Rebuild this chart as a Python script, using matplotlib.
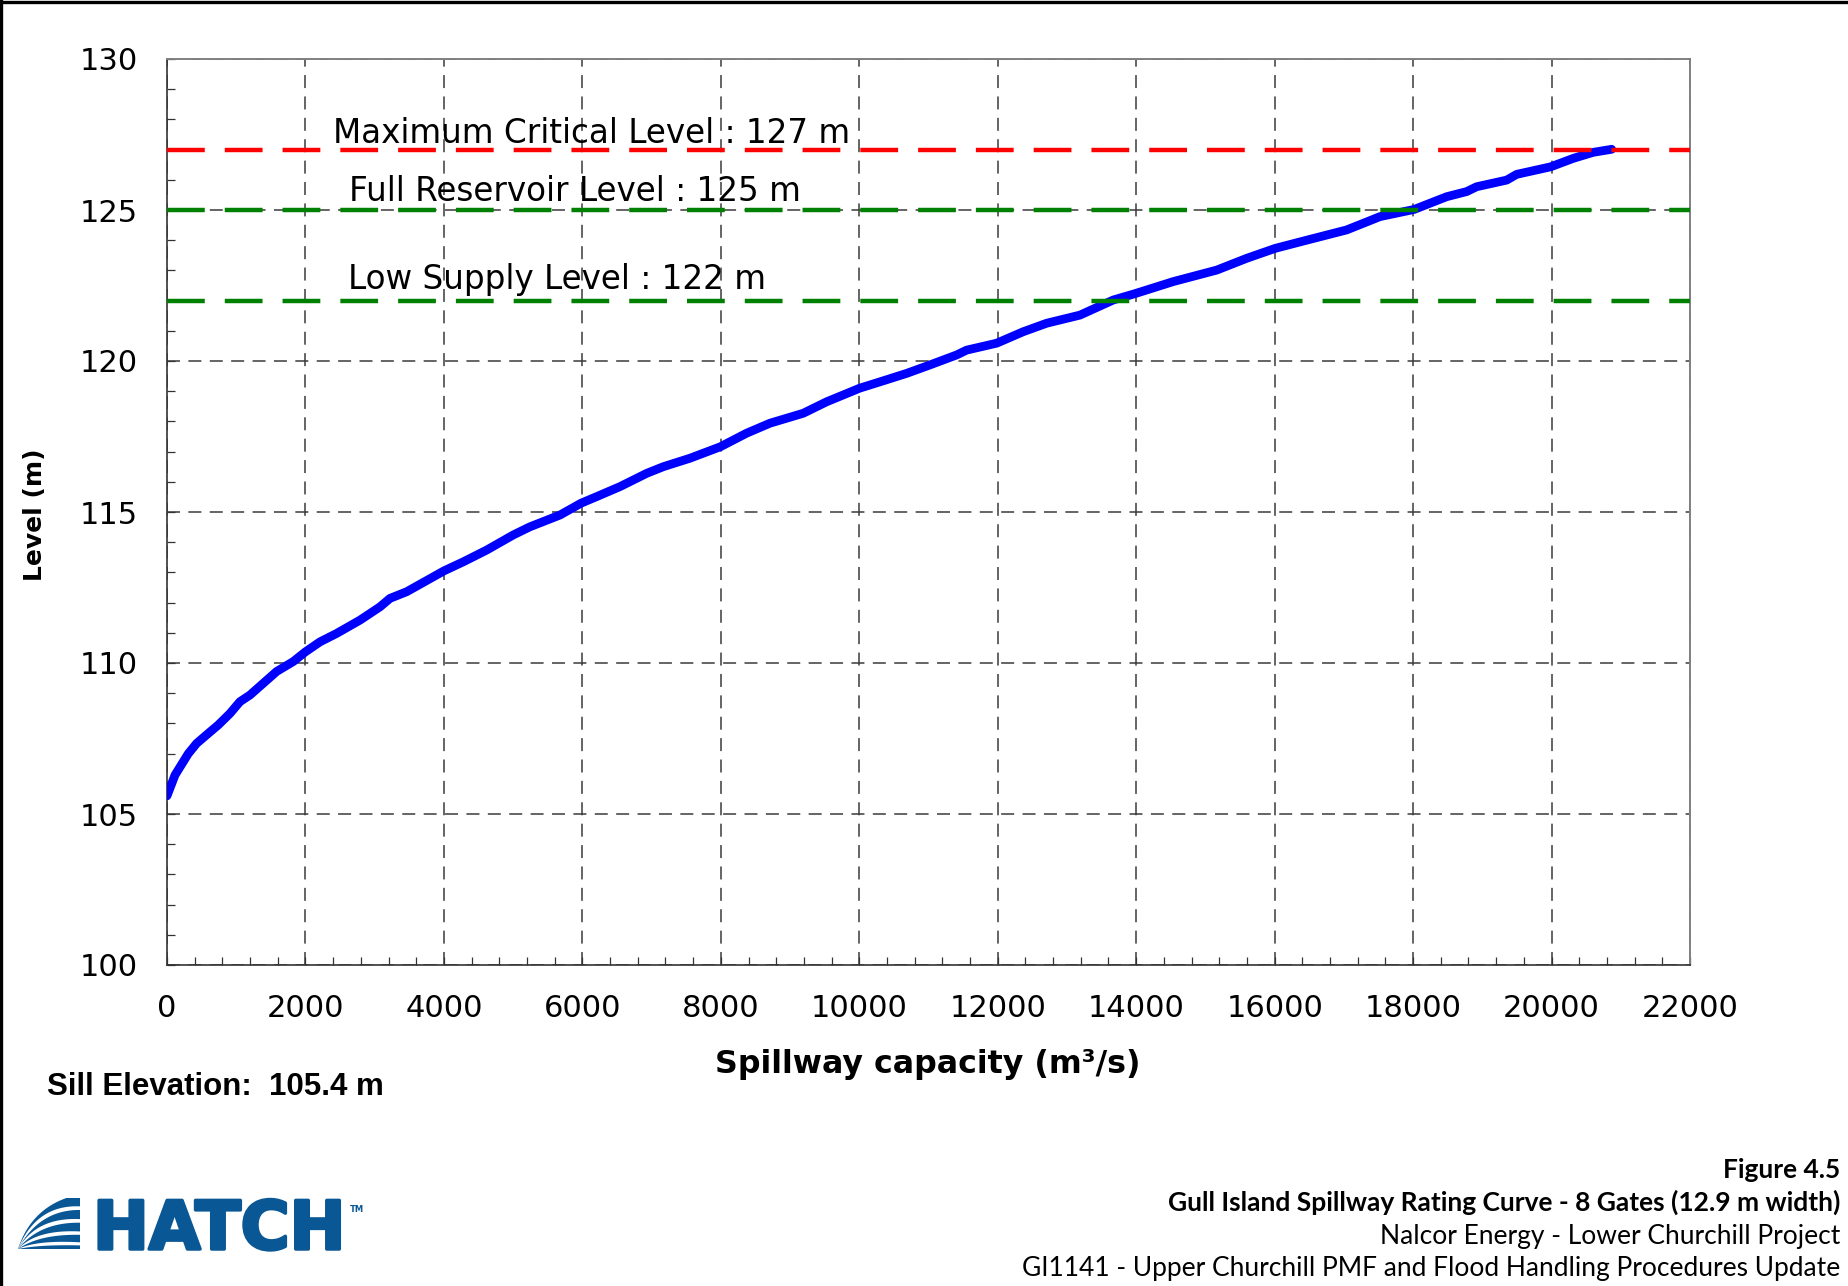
import matplotlib
matplotlib.use("Agg")
import matplotlib.pyplot as plt
import numpy as np
from matplotlib.lines import Line2D
from matplotlib.patches import Polygon, Rectangle
from matplotlib.ticker import MultipleLocator
import matplotlib.patheffects as pe

# Spillway rating curve: discharge (m³/s) against reservoir level (m)
discharge = [0, 116, 308, 429, 597, 741, 910, 1054, 1199, 1584, 1825, 2000,
             2210, 2451, 2788, 3077, 3221, 3462, 4000, 4280, 4618, 5002, 5243,
             5677, 5980, 6207, 6543, 6929, 7169, 7554, 7993, 8373, 8710, 9191,
             9529, 10006, 10299, 10684, 11021, 11406, 11551, 11985, 12369,
             12706, 13188, 13669, 13997, 14536, 15163, 15596, 16009, 16462,
             17040, 17521, 18017, 18485, 18774, 18918, 19352, 19496, 19987,
             20314, 20603, 20868]
level = [105.6, 106.29, 107.0, 107.34, 107.67, 107.95, 108.33, 108.72, 108.94,
         109.72, 110.05, 110.37, 110.7, 110.98, 111.42, 111.86, 112.14, 112.36,
         113.05, 113.35, 113.74, 114.24, 114.51, 114.9, 115.29, 115.51, 115.84,
         116.28, 116.5, 116.78, 117.16, 117.61, 117.94, 118.27, 118.65, 119.1,
         119.31, 119.59, 119.87, 120.2, 120.36, 120.59, 120.97, 121.25, 121.52,
         122.02, 122.24, 122.63, 123.01, 123.4, 123.73, 124.0, 124.34, 124.78,
         125.02, 125.44, 125.61, 125.77, 125.99, 126.18, 126.43, 126.71, 126.91,
         127.01]

# Operating reference levels
ref_names = ["Maximum Critical Level", "Full Reservoir Level", "Low Supply Level"]
ref_levels = [127, 125, 122]
ref_colors = ["#ff0000", "#008000", "#008000"]

x_ticks = list(range(0, 22001, 2000))
y_ticks = list(range(100, 131, 5))

sill_elevation = 105.4

W, H = 1849, 1286
fig = plt.figure(figsize=(W / 100, H / 100), dpi=100)


def fx(px):
    return px / W


def fy(py):
    return 1 - py / H


ax = fig.add_axes([fx(167), fy(965), fx(1690) - fx(167), fy(59) - fy(965)])

ax.plot(discharge, level, color="#0000ff", lw=6.3, solid_joinstyle="round",
        solid_capstyle="round", zorder=3)

label_pos = [(2400, 0.23), (2630, 0.30), (2620, 0.37)]
for name, lvl, col, (lx, dy) in zip(ref_names, ref_levels, ref_colors, label_pos):
    ax.plot([x_ticks[0], x_ticks[-1]], [lvl, lvl], color=col, lw=3.2,
            linestyle=(0, (8.5, 4.5)), zorder=4)
    ax.text(lx, lvl + dy, f"{name} : {lvl} m", fontsize=23.5, va="baseline",
            ha="left", color="black", zorder=5)

ax.set_xlim(x_ticks[0], x_ticks[-1])
ax.set_ylim(y_ticks[0], y_ticks[-1])
ax.set_xticks(x_ticks)
ax.set_yticks(y_ticks)
ax.xaxis.set_minor_locator(MultipleLocator(400))
ax.yaxis.set_minor_locator(MultipleLocator(1))
ax.tick_params(which="both", direction="in", top=False, right=False,
               length=6, width=0.9, color="#333333")
ax.tick_params(which="major", labelsize=22, pad=21)
ax.grid(True, which="major", color="#3a3a3a", lw=1.1, linestyle=(0, (8.5, 5.5)),
        zorder=1)
ax.set_axisbelow(True)
for side in ("left", "bottom"):
    ax.spines[side].set_color("#333333")
    ax.spines[side].set_linewidth(1.2)
for side in ("top", "right"):
    ax.spines[side].set_color("#808080")
    ax.spines[side].set_linewidth(1.4)

# Axis titles
fig.text(fx(928), fy(1064), "Spillway capacity (m³/s)", fontsize=22.8,
         fontweight="bold", ha="center", va="center")
fig.text(fx(35), fy(515), "Level (m)", fontsize=18, fontweight="bold",
         rotation=90, ha="center", va="center")

fig.text(fx(47), fy(1095), f"Sill Elevation:  {sill_elevation} m",
         family="Liberation Sans", fontweight="bold", fontsize=22.5,
         va="baseline", ha="left")

# Page frame
fig.add_artist(Line2D([0, 1], [fy(1.5), fy(1.5)], transform=fig.transFigure,
                      color="black", lw=2.4))
fig.add_artist(Line2D([fx(1.5), fx(1.5)], [0, 1], transform=fig.transFigure,
                      color="black", lw=2.4))

# Caption block
cap_font = "Lato"
fig.text(fx(1840), fy(1178), "Figure 4.5", family=cap_font, fontweight="bold",
         fontsize=19, ha="right", va="baseline")
fig.text(fx(1840), fy(1211),
         "Gull Island Spillway Rating Curve - 8 Gates (12.9 m width)",
         family=cap_font, fontweight="bold", fontsize=19, ha="right",
         va="baseline")
fig.text(fx(1840), fy(1244), "Nalcor Energy - Lower Churchill Project",
         family=cap_font, fontsize=19, ha="right", va="baseline")
fig.text(fx(1840), fy(1276),
         "GI1141 - Upper Churchill PMF and Flood Handling Procedures Update",
         family=cap_font, fontsize=19, ha="right", va="baseline")

# HATCH logo
logo_blue = "#0a5796"
lax = fig.add_axes([fx(18), fy(1249), fx(80) - fx(18), fy(1198) - fy(1249)])
lax.set_xlim(0, 1)
lax.set_ylim(0, 1)
lax.axis("off")
lax.add_patch(Rectangle((0, 0), 1, 1, color=logo_blue, lw=0))


def bez(p0, p1, p2, n=40):
    t = np.linspace(0, 1, n)[:, None]
    return (1 - t) ** 2 * np.array(p0) + 2 * (1 - t) * t * np.array(p1) + t ** 2 * np.array(p2)


top_curve = bez((0, 0), (0.2, 0.75), (0.78, 1.0))
lax.add_patch(Polygon(np.vstack([top_curve, [[0, 1]]]), closed=True,
                      color="white", lw=0))
for yend, w in [(0.80, 0.07), (0.55, 0.07), (0.31, 0.065), (0.10, 0.06)]:
    upper = bez((0, 0), (0.3, yend + w / 2 + 0.05), (1.02, yend + w / 2))
    lower = bez((0, 0), (0.35, yend - w / 2 + 0.02), (1.02, yend - w / 2))
    lax.add_patch(Polygon(np.vstack([upper, lower[::-1]]), closed=True,
                          color="white", lw=0))

fig.text(fx(93), fy(1249), "HATCH", fontsize=48, fontweight="bold",
         color=logo_blue, ha="left", va="baseline",
         path_effects=[pe.withStroke(linewidth=2.5, foreground=logo_blue)])
fig.text(fx(350), fy(1212), "TM", fontsize=6, fontweight="bold",
         color=logo_blue, ha="left", va="baseline")

fig.savefig("out.png", dpi=100)
